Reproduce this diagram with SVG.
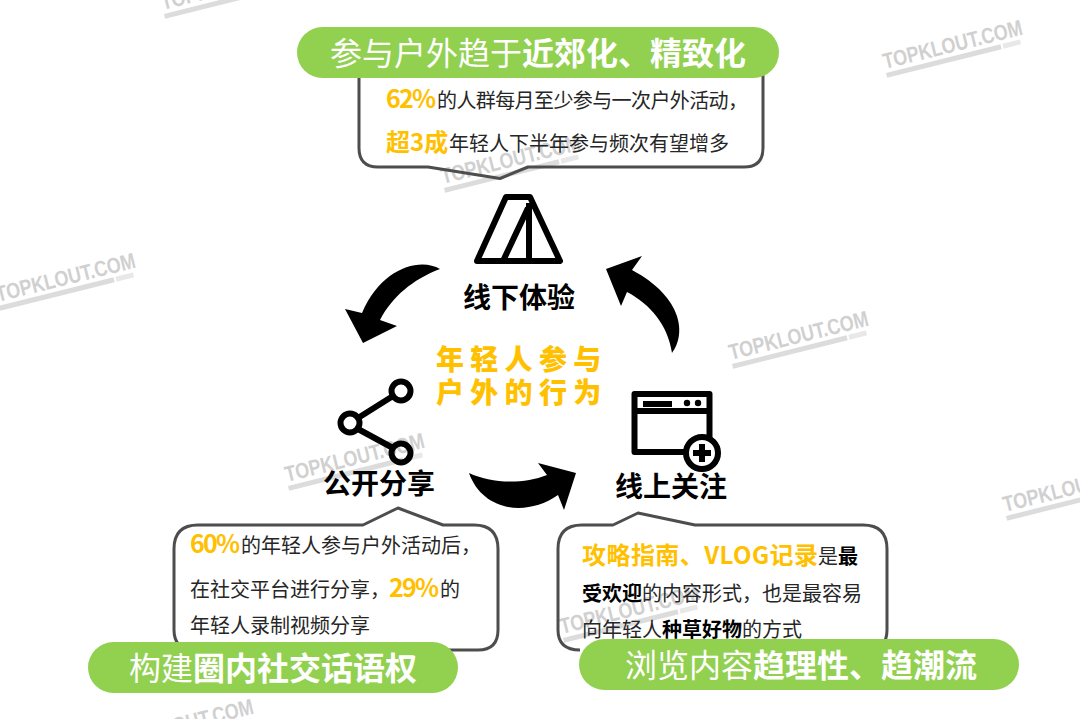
<svg xmlns="http://www.w3.org/2000/svg" width="1080" height="719" viewBox="0 0 1080 719">
<style>
text{font-family:"Noto Sans CJK SC","Liberation Sans",sans-serif}
.pill{fill:#92d050}
.pt{font-size:32px;fill:#fff}
.b{font-weight:700}
.box{fill:none;stroke:#4d4d4d;stroke-width:3;stroke-linejoin:round}
.body{font-size:20px;fill:#262626}
.y{font-size:25px;font-weight:700;fill:#ffc000;font-family:"Noto Sans CJK SC","Liberation Sans",sans-serif}
.yc{font-size:24px;font-weight:700;fill:#ffc000}
.k{font-weight:700;fill:#000}
.lab{font-size:28px;font-weight:700;fill:#000;text-anchor:middle}
.mid{font-size:28px;font-weight:900;fill:#ffc000;letter-spacing:6.300px}
.wm{font:700 22px "Liberation Sans",sans-serif;fill:#d0d0d0}
.ic{fill:none;stroke:#000;stroke-width:6;stroke-linejoin:round}
</style>
<defs>
<g id="mark" transform="rotate(-14)">
<text class="wm" textLength="143" lengthAdjust="spacingAndGlyphs">TOPKLOUT.COM</text>
<rect x="0" y="4" width="118" height="5" fill="#dcdcdc"/>
<rect x="120" y="4" width="18" height="5" fill="#e8e8e8"/>
</g>
</defs>
<g id="watermarks">
<use href="#mark" transform="translate(-2 302)"/>
<use href="#mark" transform="translate(163 10)"/>
<use href="#mark" transform="translate(885 69)"/>
<use href="#mark" transform="translate(731 360)"/>
<use href="#mark" transform="translate(287 482)"/>
<use href="#mark" transform="translate(1005 512)"/>
<use href="#mark" transform="translate(443 184)"/>
<use href="#mark" transform="translate(562 634)"/>
<use href="#mark" transform="translate(116 748)"/>
</g>
<g id="connectors">
<path d="M440 269C420 257 381 268 362 313L345 309L363 343L397 326L380 320C393 296 412 280 440 269Z"/>
<path d="M672 353C686 335 684 298 632 270L642 256L606 269L621 306L627 292C650 304 668 325 672 353Z"/>
<path d="M469 473C490 483 522 485 547 475L538 463L576 473L564 510L558 495C525 518 482 510 469 473Z"/>
</g>
<g id="node-top">
<path class="box" d="M359 60V148Q359 167 378 167H428L500 178.500L528 167H744Q763 167 763 148V60"/>
<rect class="pill" x="297" y="27" width="482" height="51" rx="25.500"/>
<text class="pt" x="330" y="65">参与户外趋于<tspan class="b">近郊化、精致化</tspan></text>
<text class="body" x="386" y="108"><tspan class="y" textLength="50">62%</tspan><tspan x="437" textLength="311">的人群每月至少参与一次户外活动，</tspan></text>
<text class="body" x="386" y="151"><tspan class="yc">超3成</tspan><tspan x="449">年轻人下半年参与频次有望增多</tspan></text>
</g>
<g id="node-offline">
<path class="ic" d="M506 197H530L560 261H477ZM529 203V261M528 208L503 261"/>
<text class="lab" x="519" y="308">线下体验</text>
</g>
<g id="node-center">
<text class="mid" x="436" y="370">年轻人参与</text>
<text class="mid" x="436" y="403">户外的行为</text>
</g>
<g id="node-share">
<path class="ic" d="M358 418L393 396M358 429L393 448"/>
<circle class="ic" cx="401" cy="391" r="9.500" stroke-width="7"/>
<circle class="ic" cx="350" cy="423" r="9.500" stroke-width="7"/>
<circle class="ic" cx="401" cy="453" r="9.500" stroke-width="7"/>
<text class="lab" x="379" y="494">公开分享</text>
</g>
<g id="node-online">
<rect class="ic" x="634.500" y="394" width="75" height="58" stroke-linejoin="miter"/>
<path class="ic" d="M635 411H710"/>
<rect x="643" y="401" width="29" height="6"/>
<circle cx="687" cy="403" r="3.200"/><circle cx="698" cy="403" r="3.200"/>
<circle cx="702" cy="453" r="16" fill="#fff" stroke="#000" stroke-width="6"/>
<path d="M699 444H705V450H711V456H705V462H699V456H693V450H699Z"/>
<text class="lab" x="671" y="497">线上关注</text>
</g>
<g id="node-left">
<path class="box" d="M174 549Q174 525 198 525H363L398 508L443 525H474Q498 525 498 549V630Q498 650 478 650H440M195 650Q174 650 174 630V549"/>
<rect class="pill" x="88" y="642" width="370" height="51" rx="25.500"/>
<text class="pt" x="129" y="680">构建<tspan class="b">圈内社交话语权</tspan></text>
<text class="body" x="190" y="553"><tspan class="y" textLength="50">60%</tspan><tspan x="241">的年轻人参与户外活动后，</tspan></text>
<text class="body" x="190" y="597">在社交平台进行分享，<tspan class="y" x="389" textLength="50">29%</tspan><tspan x="440">的</tspan></text>
<text class="body" x="190" y="633">年轻人录制视频分享</text>
</g>
<g id="node-right">
<path class="box" d="M558 549Q558 525 582 525H613L638 513L695 525H863Q887 525 887 549V630Q887 650 867 650H800M580 650Q558 650 558 630V549"/>
<rect class="pill" x="579" y="639" width="440" height="51" rx="25.500"/>
<text class="pt" x="625" y="677">浏览内容<tspan class="b">趋理性、趋潮流</tspan></text>
<text class="body" x="582" y="564"><tspan class="yc" textLength="236">攻略指南、VLOG记录</tspan><tspan x="818">是</tspan><tspan class="k">最</tspan></text>
<text class="body" x="582" y="601"><tspan class="k">受欢迎</tspan>的内容形式，也是最容易</text>
<text class="body" x="582" y="637">向年轻人<tspan class="k">种草好物</tspan>的方式</text>
</g>
</svg>
